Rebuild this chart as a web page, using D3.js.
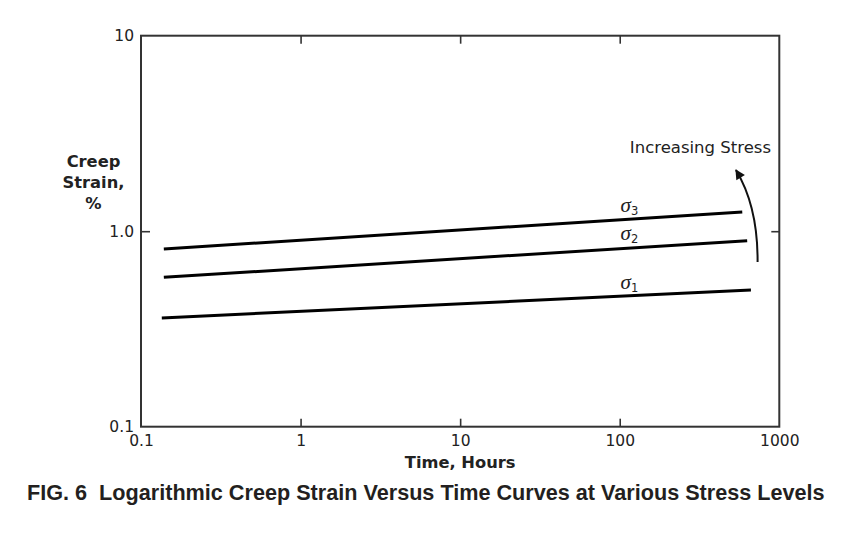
<!DOCTYPE html>
<html>
<head>
<meta charset="utf-8">
<script src="https://cdn.jsdelivr.net/npm/d3@7"></script>
<style>
  body { margin: 0; background: #fff; }
  svg { display: block; }
  .tick text { font-family: "DejaVu Sans", Verdana, sans-serif; font-size: 15.5px; fill: #222; }
  .tick line { stroke: #333; stroke-width: 1.6; }
  .domain { display: none; }
</style>
</head>
<body>
<svg id="chart" width="842" height="534"></svg>
<script>
var svg = d3.select("#chart");

// data (log-log axes)
var xTicks = [0.1, 1, 10, 100, 1000];
var yTicks = [0.1, 1, 10];
var yTickLabels = ["0.1", "1.0", "10"];
var seriesNames = ["1", "2", "3"];
var sigma1 = [{t: 0.135, s: 0.360}, {t: 664, s: 0.500}];
var sigma2 = [{t: 0.139, s: 0.581}, {t: 629, s: 0.894}];
var sigma3 = [{t: 0.139, s: 0.811}, {t: 586, s: 1.254}];
var labelT = 115;
var labelS = [0.509, 0.902, 1.254];
// arrow "Increasing Stress": start, control, tip
var arrowPts = [{t: 731, s: 0.696}, {t: 735, s: 1.34}, {t: 535, s: 2.056}];

var plotLeft = 141, plotRight = 779.3, plotTop = 35.7, plotBottom = 426.7;

var x = d3.scaleLog().domain([0.1, 1000]).range([plotLeft, plotRight]);
var y = d3.scaleLog().domain([0.1, 10]).range([plotBottom, plotTop]);

// frame
svg.append("rect")
  .attr("x", plotLeft).attr("y", plotTop)
  .attr("width", plotRight - plotLeft).attr("height", plotBottom - plotTop)
  .attr("fill", "none").attr("stroke", "#333").attr("stroke-width", 2);

svg.append("g")
  .attr("transform", "translate(0," + plotBottom + ")")
  .call(d3.axisBottom(x).tickValues(xTicks).tickSize(-8).tickPadding(8)
    .tickFormat(function(d){ return d3.format("~g")(d); }))
  .call(function(g){ g.selectAll(".tick line").filter(function(d){ return d == 0.1 || d == 1000; }).remove(); });

svg.append("g")
  .attr("transform", "translate(0," + plotTop + ")")
  .call(d3.axisTop(x).tickValues([1, 10, 100]).tickSize(-8).tickFormat(""));

svg.append("g")
  .attr("transform", "translate(" + plotLeft + ",0)")
  .call(d3.axisLeft(y).tickValues(yTicks).tickSize(-9).tickPadding(7)
    .tickFormat(function(d, i){ return yTickLabels[i]; }))
  .call(function(g){ g.selectAll(".tick line").filter(function(d){ return d != 1; }).remove(); });

svg.append("g")
  .attr("transform", "translate(" + plotRight + ",0)")
  .call(d3.axisRight(y).tickValues([1]).tickSize(-8).tickFormat(""));

// curves
var line = d3.line()
  .x(function(d){ return x(d.t); })
  .y(function(d){ return y(d.s); });

[sigma1, sigma2, sigma3].forEach(function(data){
  svg.append("path")
    .datum(data)
    .attr("d", line)
    .attr("fill", "none")
    .attr("stroke", "#000")
    .attr("stroke-width", 3);
});

// sigma labels
seriesNames.forEach(function(n, i){
  var lbl = svg.append("text")
    .attr("x", x(labelT))
    .attr("y", y(labelS[i]))
    .attr("text-anchor", "middle")
    .style("fill", "#222");
  lbl.append("tspan")
    .style("font-family", "'Liberation Serif', serif")
    .style("font-style", "italic")
    .style("font-size", "21px")
    .text("\u03c3");
  lbl.append("tspan")
    .attr("dy", 3)
    .style("font-family", "'DejaVu Sans', sans-serif")
    .style("font-size", "11.5px")
    .text(n);
});

// arrow
svg.append("defs").append("marker")
  .attr("id", "head")
  .attr("viewBox", "0 0 10 10")
  .attr("refX", 9).attr("refY", 5)
  .attr("markerWidth", 13).attr("markerHeight", 10)
  .attr("markerUnits", "userSpaceOnUse")
  .attr("orient", "auto")
  .append("path")
  .attr("d", "M0,0 L10,5 L0,10 Z")
  .attr("fill", "#111");

var p = arrowPts.map(function(d){ return [x(d.t), y(d.s)]; });
svg.append("path")
  .attr("d", "M" + p[0] + " Q" + p[1] + " " + p[2])
  .attr("fill", "none")
  .attr("stroke", "#111")
  .attr("stroke-width", 2)
  .attr("marker-end", "url(#head)");

svg.append("text")
  .attr("x", 771).attr("y", 153)
  .attr("text-anchor", "end")
  .style("font-family", "'DejaVu Sans', Verdana, sans-serif")
  .style("font-size", "16.5px")
  .style("fill", "#222")
  .text("Increasing Stress");

// axis titles
svg.append("text")
  .attr("x", x(10)).attr("y", 468)
  .attr("text-anchor", "middle")
  .style("font-family", "'DejaVu Sans', Verdana, sans-serif")
  .style("font-weight", "bold")
  .style("font-size", "16.3px")
  .style("fill", "#222")
  .text("Time, Hours");

var yTitle = svg.append("text")
  .attr("text-anchor", "middle")
  .style("font-family", "'DejaVu Sans', Verdana, sans-serif")
  .style("font-weight", "bold")
  .style("font-size", "16.3px")
  .style("fill", "#222");
["Creep", "Strain,", "%"].forEach(function(t, i){
  yTitle.append("tspan").attr("x", 93.5).attr("y", 167 + i * 21).text(t);
});

// caption
var cap = svg.append("text")
  .attr("x", 27).attr("y", 500)
  .style("font-family", "'Liberation Sans', Arial, sans-serif")
  .style("font-weight", "bold")
  .style("font-size", "18.5px")
  .style("fill", "#231f20")
  .style("white-space", "pre")
  .text("FIG. 6  Logarithmic Creep Strain Versus Time Curves at Various Stress Levels");
var w = cap.node().getComputedTextLength();
cap.style("font-size", (18.5 * 798 / w) + "px");
</script>
</body>
</html>
